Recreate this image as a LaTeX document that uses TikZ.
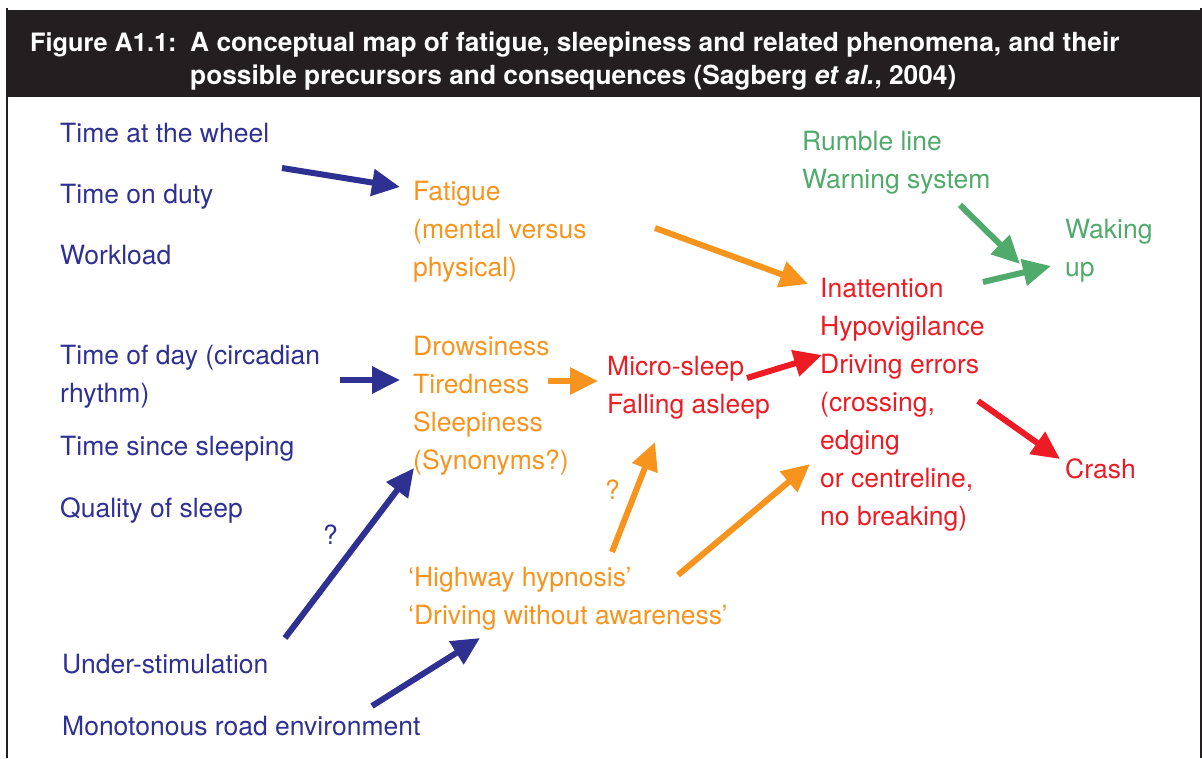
\documentclass[tikz,border=0pt]{standalone}
\usepackage{fontspec}
\setmainfont{TeX Gyre Heros}
\usetikzlibrary{arrows.meta}
\definecolor{cblue}{HTML}{2E3192}
\definecolor{corange}{HTML}{F7941E}
\definecolor{cred}{HTML}{ED1C24}
\definecolor{cgreen}{HTML}{4FAA6B}
\definecolor{cdark}{HTML}{231F20}
\tikzset{
  lbl/.style={anchor=base west, inner sep=0pt, align=left, font=\fontsize{26.5}{38}\selectfont},
  bl/.style={lbl, text=cblue},
  og/.style={lbl, text=corange},
  rd/.style={lbl, text=cred},
  gr/.style={lbl, text=cgreen},
  arr/.style={line width=6pt, -{Triangle[length=28pt,width=26pt]}},
  barr/.style={arr, draw=cblue, fill=cblue},
  oarr/.style={arr, draw=corange, fill=corange},
  rarr/.style={arr, draw=cred, fill=cred},
  garr/.style={arr, draw=cgreen, fill=cgreen},
  hdr/.style={anchor=base west, inner sep=0pt, align=left, text=white, font=\fontsize{26.3}{33}\selectfont\bfseries}
}
\begin{document}
\begin{tikzpicture}[x=1pt,y=-1pt]
\useasboundingbox (0,0) rectangle (1202,758);
% frame and header
\fill[cdark] (7,10) rectangle (1201,97);
\draw[cdark, line width=1.5pt] (7,8) -- (7,758);
\draw[cdark, line width=1.5pt] (1201,8) -- (1201,758);
\node[hdr, font=\fontsize{25.3}{33}\selectfont\bfseries] (fig) at (30,51) {Figure A1.1:};
\node[hdr] (title) at (190,84) {A conceptual map of fatigue, sleepiness and related phenomena, and their\\possible precursors and consequences (Sagberg \textit{et al.}, 2004)};
% blue causes
\node[bl] (wheel) at (60,142) {Time at the wheel};
\node[bl] (duty) at (60,203) {Time on duty};
\node[bl] (work) at (60,264) {Workload};
\node[bl] (tod) at (60,402) {Time of day (circadian\\rhythm)};
\node[bl] (since) at (60,455) {Time since sleeping};
\node[bl] (quality) at (60,517) {Quality of sleep};
\node[bl] (q1) at (323,544) {?};
\node[bl] (under) at (62,673) {Under-stimulation};
\node[bl] (mono) at (62,735) {Monotonous road environment};
% orange
\node[og] (fatigue) at (413,276) {Fatigue\\(mental versus\\physical)};
\node[og] (drowsy) at (413,469) {Drowsiness\\Tiredness\\Sleepiness\\(Synonyms?)};
\node[og] (q2) at (605,499) {?};
\node[og] (hyp) at (408,624) {‘Highway hypnosis’\\‘Driving without awareness’};
% red
\node[rd] (micro) at (607,413) {Micro-sleep\\Falling asleep};
\node[rd] (inatt) at (820,525) {Inattention\\Hypovigilance\\Driving errors\\(crossing,\\edging\\or centreline,\\no breaking)};
\node[rd] (crash) at (1065,478) {Crash};
% green
\node[gr] (rumble) at (802,188) {Rumble line\\Warning system};
\node[gr] (waking) at (1065,276) {Waking\\up};
% arrow coordinates
\coordinate (a1s) at (282,168); \coordinate (a1e) at (400,187);
\coordinate (a2s) at (340,380); \coordinate (a2e) at (400,380);
\coordinate (a3s) at (285,638); \coordinate (a3e) at (414,468);
\coordinate (a4s) at (372,706); \coordinate (a4e) at (480,638);
\coordinate (a5s) at (655,228); \coordinate (a5e) at (808,284);
\coordinate (a6s) at (548,381); \coordinate (a6e) at (598,381);
\coordinate (a7s) at (612,552); \coordinate (a7e) at (655,442);
\coordinate (a8s) at (678,575); \coordinate (a8e) at (810,464);
\coordinate (a9s) at (747,378); \coordinate (a9e) at (822,355);
\coordinate (a10s) at (978,401); \coordinate (a10e) at (1060,459);
\coordinate (a11s) at (960,205); \coordinate (a11e) at (1020,264);
\coordinate (a12s) at (983,282); \coordinate (a12e) at (1051,266);
\draw[barr] (a1s) -- (a1e);
\draw[barr] (a2s) -- (a2e);
\draw[barr] (a3s) -- (a3e);
\draw[barr] (a4s) -- (a4e);
\draw[oarr] (a5s) -- (a5e);
\draw[oarr] (a6s) -- (a6e);
\draw[oarr] (a7s) -- (a7e);
\draw[oarr] (a8s) -- (a8e);
\draw[rarr] (a9s) -- (a9e);
\draw[rarr] (a10s) -- (a10e);
\draw[garr] (a11s) -- (a11e);
\draw[garr] (a12s) -- (a12e);
\end{tikzpicture}
\end{document}
